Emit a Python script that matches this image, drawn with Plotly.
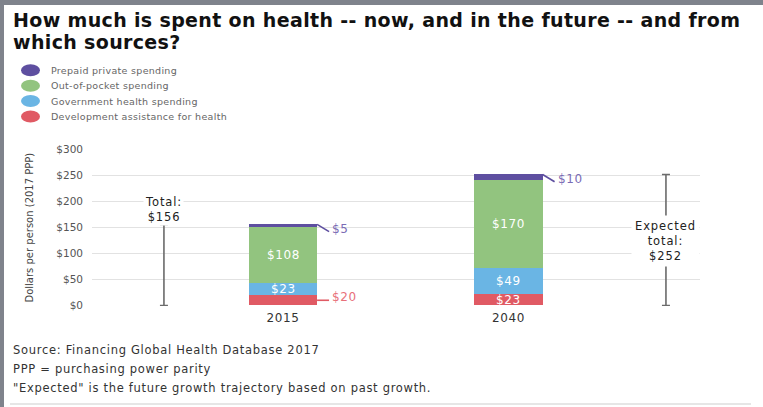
import plotly.graph_objects as go

# ---- data -------------------------------------------------------------
years = ["2015", "2040"]
series_names = [
    "Development assistance for health",
    "Government health spending",
    "Out-of-pocket spending",
    "Prepaid private spending",
]
dev_assistance = [20, 23]
government = [23, 49]
out_of_pocket = [108, 170]
prepaid_private = [5, 10]
totals = [156, 252]
total_labels = [["Total:", "$156"], ["Expected", "total:", "$252"]]
y_ticks = [0, 50, 100, 150, 200, 250, 300]
title_lines = ["How much is spent on health -- now, and in the future -- and from",
               "which sources?"]
notes = [
    "Source: Financing Global Health Database 2017",
    "PPP = purchasing power parity",
    "\"Expected\" is the future growth trajectory based on past growth.",
]

series_values = [dev_assistance, government, out_of_pocket, prepaid_private]
colors = ["#e05a64", "#6ab5e4", "#92c47f", "#5e4fa0"]
label_colors = ["#e8707a", "#6ab5e4", "#92c47f", "#7a6cb5"]

# segments labelled outside the bar with a leader line: (series index, year index)
outside = {(0, 0), (3, 0), (3, 1)}

# ---- geometry ---------------------------------------------------------
W, H = 763, 407
ML, MR, MT, MB = 92, 63, 149, 101
PW, PH = W - ML - MR, H - MT - MB
bar_x = [1, 2]
total_x = [0.472, 2.698]
x_range = [0.153, 2.849]
y_range = [-1, 301]
bar_w = 0.302
x_per_px = (x_range[1] - x_range[0]) / PW


def px(xp):
    return (xp - ML) / PW


def py(yp):
    return (H - MB - yp) / PH


def spaced(text, ls):
    """Wrap each line of a label in a letter-spaced span."""
    lines = text if isinstance(text, list) else [text]
    return "<br>".join(f"<span style='letter-spacing:{ls}px'>{t}</span>" for t in lines)


FONT = "DejaVu Sans"
fig = go.Figure()

for name, vals, col in zip(series_names, series_values, colors):
    fig.add_trace(go.Bar(
        x=bar_x, y=vals, name=name, width=bar_w,
        marker=dict(color=col, line=dict(width=0)),
        showlegend=False, hoverinfo="skip",
    ))

# total whiskers
fig.add_trace(go.Scatter(
    x=total_x, y=[t / 2 for t in totals], mode="markers",
    marker=dict(size=1, color="rgba(0,0,0,0)"),
    error_y=dict(type="data", array=[t / 2 for t in totals], symmetric=True,
                 color="#6b6b6b", thickness=1.6, width=4),
    showlegend=False, hoverinfo="skip",
))

annotations = []
shapes = []

# segment value labels
for j, xb in enumerate(bar_x):
    base = 0
    for i, vals in enumerate(series_values):
        v = vals[j]
        mid = base + v / 2
        if (i, j) in outside:
            x0 = xb + bar_w / 2
            if i == 3:
                y0 = base + v
                y1 = y0 - 14
                ty = y1 + 5
            else:
                y0 = mid
                y1 = mid
                ty = mid + 6
            x1 = x0 + 12 * x_per_px
            shapes.append(dict(type="line", xref="x", yref="y", x0=x0, y0=y0, x1=x1, y1=y1,
                               line=dict(color=colors[i], width=1.6)))
            annotations.append(dict(x=x1 + 1 * x_per_px, y=ty, xref="x", yref="y",
                                    text=spaced(f"${v}", 0.6), showarrow=False,
                                    xanchor="left", yanchor="middle",
                                    font=dict(family=FONT, size=12, color=label_colors[i])))
        else:
            annotations.append(dict(x=xb, y=mid, xref="x", yref="y",
                                    text=spaced(f"${v}", 0.6),
                                    showarrow=False, xanchor="center", yanchor="middle",
                                    font=dict(family=FONT, size=12, color="white")))
        base += v

# total labels
annotations.append(dict(x=total_x[0], y=totals[0], xref="x", yref="y",
                        text=spaced(total_labels[0], 0.9),
                        showarrow=False, xanchor="center", yanchor="bottom", yshift=-2,
                        bgcolor="white", borderpad=1,
                        font=dict(family=FONT, size=11.5, color="#222222")))
annotations.append(dict(x=total_x[1], y=totals[1] / 2, xref="x", yref="y",
                        text=spaced(total_labels[1], 0.9),
                        showarrow=False, xanchor="center", yanchor="middle", yshift=-1,
                        bgcolor="white", borderpad=3,
                        font=dict(family=FONT, size=11.5, color="#222222")))

# title
for k, line in enumerate(title_lines):
    annotations.append(dict(x=px(11), y=py(20 + k * 22), xref="paper", yref="paper",
                            text="<b>" + spaced(line, 0.35) + "</b>",
                            showarrow=False, xanchor="left", yanchor="middle", align="left",
                            font=dict(family=FONT, size=19, color="#111111")))

# legend
legend_order = [3, 2, 1, 0]
for k, i in enumerate(legend_order):
    cy = 70.3 + k * 15.4
    shapes.append(dict(type="circle", xref="paper", yref="paper",
                       x0=px(21), x1=px(40), y0=py(cy - 6), y1=py(cy + 6),
                       fillcolor=colors[i], line=dict(width=0)))
    annotations.append(dict(x=px(49), y=py(cy), xref="paper", yref="paper",
                            text=spaced(series_names[i], 0.3), showarrow=False,
                            xanchor="left", yanchor="middle",
                            font=dict(family=FONT, size=9.5, color="#666666")))

# y axis title
annotations.append(dict(x=px(29), y=py(227.5), xref="paper", yref="paper",
                        text="Dollars per person (2017 PPP)", textangle=-90,
                        showarrow=False, xanchor="center", yanchor="middle",
                        font=dict(family=FONT, size=10, color="#444444")))

# footer notes
for k, t in enumerate(notes):
    annotations.append(dict(x=px(11), y=py(350 + k * 19), xref="paper", yref="paper",
                            text=spaced(t, 0.7), showarrow=False,
                            xanchor="left", yanchor="middle",
                            font=dict(family=FONT, size=11.5, color="#333333")))

# page frame
shapes += [
    dict(type="rect", xref="paper", yref="paper", x0=px(0), x1=px(4), y0=py(H), y1=py(0),
         fillcolor="#7f838c", line=dict(width=0), layer="above"),
    dict(type="rect", xref="paper", yref="paper", x0=px(0), x1=px(W), y0=py(5), y1=py(0),
         fillcolor="#7f838c", line=dict(width=0), layer="above"),
    dict(type="line", xref="paper", yref="paper", x0=px(10), x1=px(751), y0=py(404), y1=py(404),
         line=dict(color="#e6e6e6", width=2)),
]

fig.update_layout(
    width=W, height=H,
    margin=dict(l=ML, r=MR, t=MT, b=MB, pad=0),
    paper_bgcolor="white", plot_bgcolor="white",
    barmode="stack",
    showlegend=False,
    xaxis=dict(range=x_range, tickvals=bar_x, ticktext=[spaced(y, 0.6) for y in years],
               showgrid=False, zeroline=False, showline=False, ticks="", ticklabelstandoff=3,
               tickfont=dict(family=FONT, size=12, color="#333333")),
    yaxis=dict(range=y_range, tickvals=y_ticks, ticktext=[f"${v}" for v in y_ticks],
               showgrid=True, gridcolor="#e2e2e2", gridwidth=1, zeroline=False,
               showline=False, ticks="", ticklabelstandoff=8,
               tickfont=dict(family=FONT, size=10.5, color="#555555")),
    annotations=annotations,
    shapes=shapes,
)

fig.write_html("out.html")
